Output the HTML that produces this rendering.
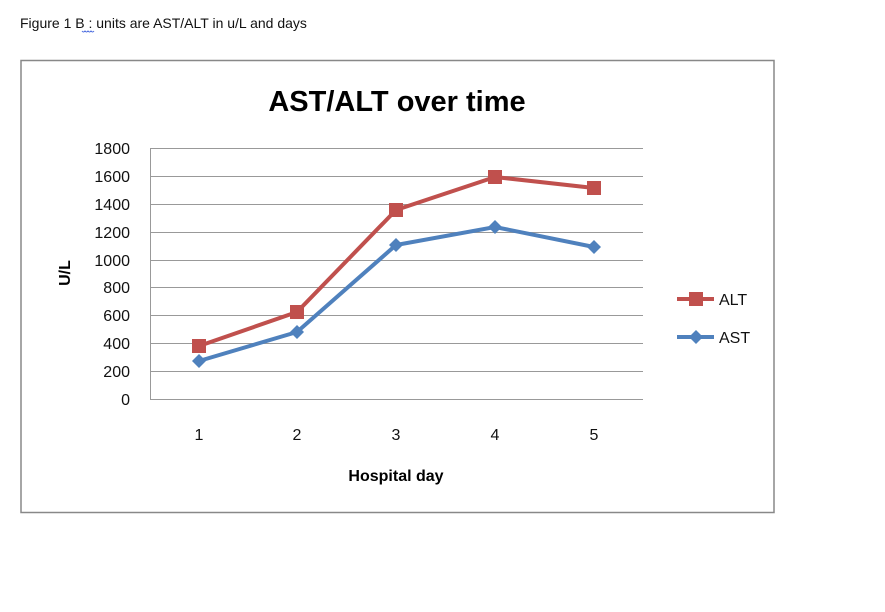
<!DOCTYPE html>
<html><head><style>body{margin:0;background:#fff}</style></head><body>
<svg width="885" height="607" xmlns="http://www.w3.org/2000/svg" font-family="Liberation Sans, sans-serif">
<rect width="885" height="607" fill="#fff"/>
<text x="20" y="28" font-size="14" fill="#111">Figure 1 B : units are AST/ALT in u/L  and days</text>
<path d="M82 31 q1.5 2 3 0 q1.5 2 3 0 q1.5 2 3 0 q1.5 2 3 0" stroke="#4466dd" fill="none" stroke-width="1"/>
<rect x="21" y="60.5" width="753" height="452" fill="#fff" stroke="#888" stroke-width="1.5"/>
<text x="397" y="111" font-size="29" font-weight="bold" text-anchor="middle" fill="#000">AST/ALT over time</text>
<g stroke="#999" stroke-width="1">
<line x1="150" y1="148.5" x2="643" y2="148.5"/>
<line x1="150" y1="176.5" x2="643" y2="176.5"/>
<line x1="150" y1="204.5" x2="643" y2="204.5"/>
<line x1="150" y1="232.5" x2="643" y2="232.5"/>
<line x1="150" y1="260.5" x2="643" y2="260.5"/>
<line x1="150" y1="287.5" x2="643" y2="287.5"/>
<line x1="150" y1="315.5" x2="643" y2="315.5"/>
<line x1="150" y1="343.5" x2="643" y2="343.5"/>
<line x1="150" y1="371.5" x2="643" y2="371.5"/>
<line x1="150" y1="399.5" x2="643" y2="399.5"/>
<line x1="150.5" y1="148" x2="150.5" y2="399"/>
</g>
<g font-size="16" text-anchor="end" fill="#111">
<text x="130" y="154">1800</text><text x="130" y="182">1600</text><text x="130" y="210">1400</text>
<text x="130" y="238">1200</text><text x="130" y="266">1000</text><text x="130" y="293">800</text>
<text x="130" y="321">600</text><text x="130" y="349">400</text><text x="130" y="377">200</text><text x="130" y="405">0</text>
</g>
<g font-size="16" text-anchor="middle" fill="#111">
<text x="199" y="440">1</text><text x="297" y="440">2</text><text x="396" y="440">3</text><text x="495" y="440">4</text><text x="594" y="440">5</text>
</g>
<text x="396" y="481" font-size="16" font-weight="bold" text-anchor="middle" fill="#000">Hospital day</text>
<text transform="translate(70,273) rotate(-90)" font-size="16" font-weight="bold" text-anchor="middle" fill="#000">U/L</text>
<polyline points="199,346 297,312 396,210 495,177 594,188" fill="none" stroke="#c0504d" stroke-width="4"/>
<g fill="#c0504d">
<rect x="192" y="339" width="14" height="14"/><rect x="290" y="305" width="14" height="14"/><rect x="389" y="203" width="14" height="14"/><rect x="488" y="170" width="14" height="14"/><rect x="587" y="181" width="14" height="14"/>
</g>
<polyline points="199,361 297,332 396,245 495,227 594,247" fill="none" stroke="#4f81bd" stroke-width="4"/>
<g fill="#4f81bd">
<path d="M199 354l7 7-7 7-7-7z"/><path d="M297 325l7 7-7 7-7-7z"/><path d="M396 238l7 7-7 7-7-7z"/><path d="M495 220l7 7-7 7-7-7z"/><path d="M594 240l7 7-7 7-7-7z"/>
</g>
<line x1="677" y1="299" x2="714" y2="299" stroke="#c0504d" stroke-width="4"/>
<rect x="689" y="292" width="14" height="14" fill="#c0504d"/>
<text x="719" y="305" font-size="16" fill="#111">ALT</text>
<line x1="677" y1="337" x2="714" y2="337" stroke="#4f81bd" stroke-width="4"/>
<path d="M696 330l7 7-7 7-7-7z" fill="#4f81bd"/>
<text x="719" y="343" font-size="16" fill="#111">AST</text>
</svg>
</body></html>
